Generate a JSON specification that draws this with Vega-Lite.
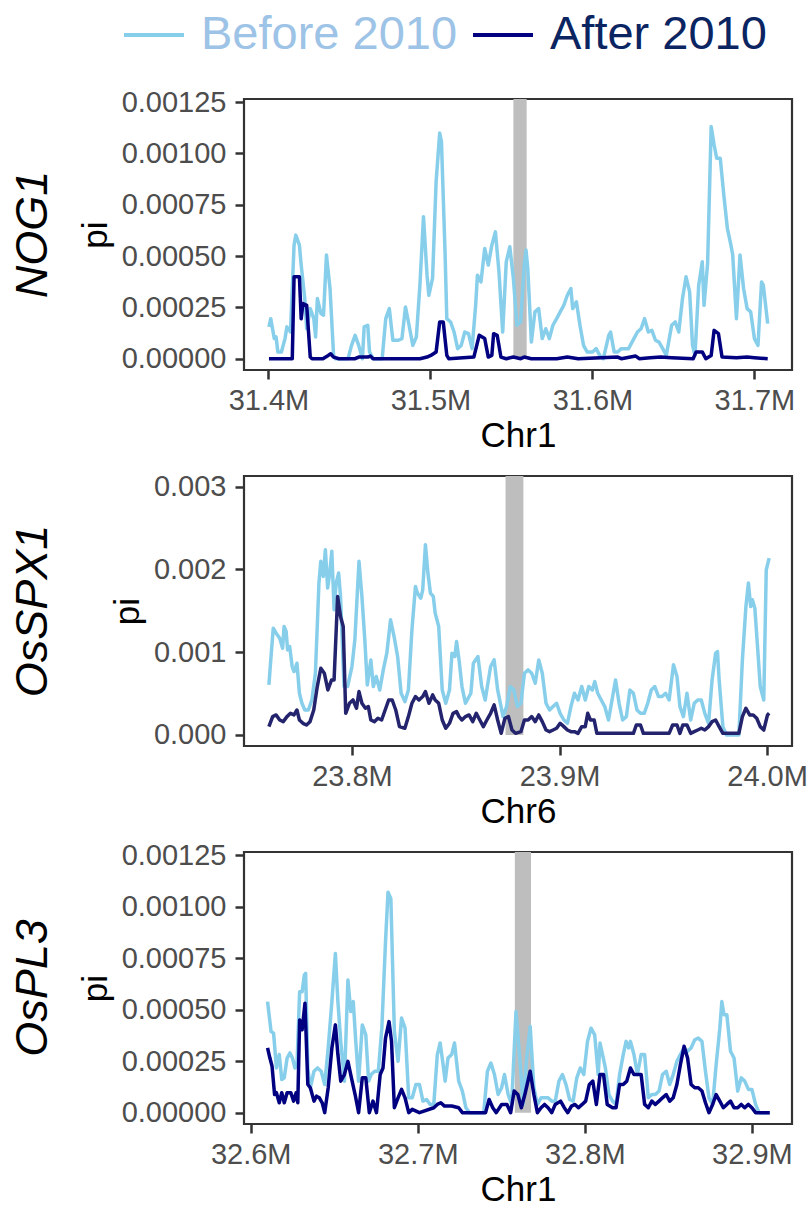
{
  "$schema": "https://vega.github.io/schema/vega-lite/v6.json",
  "background": "white",
  "padding": {"left": 10, "top": 1, "right": 0, "bottom": 0},
  "bounds": "flush",
  "config": {
    "font": "Liberation Sans",
    "view": {"stroke": "#333333", "strokeWidth": 2.2},
    "axis": {"domain": false, "grid": false, "tickColor": "#333333", "tickWidth": 2.5, "tickSize": 9, "labelFontSize": 29, "labelColor": "#4D4D4D", "labelFlush": false, "labelOverlap": false, "titleFontSize": 35, "titleFontWeight": "normal", "titleColor": "#000000"},
    "axisX": {"labelPadding": 7, "titlePadding": 3},
    "axisY": {"labelPadding": 9, "titlePadding": 8},
    "title": {"fontSize": 45, "fontStyle": "italic", "fontWeight": "normal", "color": "#000000", "orient": "left", "anchor": "middle"}
  },
  "datasets": {
    "bands": [
      {"gene": "NOG1", "start": 31.5512, "end": 31.5594, "lo": 0, "hi": 0.001265},
      {"gene": "OsSPX1", "start": 23.874, "end": 23.8826, "lo": 0, "hi": 0.003128},
      {"gene": "OsPL3", "start": 32.7581, "end": 32.7678, "lo": 0, "hi": 0.001265}
    ],
    "nog1": [
      {"period":"Before 2010","pos":31.4003,"pi":0.000155},{"period":"Before 2010","pos":31.4014,"pi":0.000195},{"period":"Before 2010","pos":31.4036,"pi":0.000098},{"period":"Before 2010","pos":31.4047,"pi":0.000106},{"period":"Before 2010","pos":31.4058,"pi":0.000033},{"period":"Before 2010","pos":31.408,"pi":0.000033},{"period":"Before 2010","pos":31.4102,"pi":0.000098},{"period":"Before 2010","pos":31.4114,"pi":0.000155},{"period":"Before 2010","pos":31.4136,"pi":0.00013},{"period":"Before 2010","pos":31.4158,"pi":0.000553},{"period":"Before 2010","pos":31.4169,"pi":0.000602},{"period":"Before 2010","pos":31.4191,"pi":0.000553},{"period":"Before 2010","pos":31.4202,"pi":0.000456},{"period":"Before 2010","pos":31.4224,"pi":0.000293},{"period":"Before 2010","pos":31.4236,"pi":0.000146},{"period":"Before 2010","pos":31.4258,"pi":0.000244},{"period":"Before 2010","pos":31.428,"pi":0.000195},{"period":"Before 2010","pos":31.4291,"pi":0.000106},{"period":"Before 2010","pos":31.4302,"pi":0.000293},{"period":"Before 2010","pos":31.4324,"pi":0.00022},{"period":"Before 2010","pos":31.434,"pi":0.000212},{"period":"Before 2010","pos":31.4358,"pi":0.000505},{"period":"Before 2010","pos":31.438,"pi":0.000342},{"period":"Before 2010","pos":31.4402,"pi":0.000016},{"period":"Before 2010","pos":31.4413,"pi":0},{"period":"Before 2010","pos":31.4491,"pi":0},{"period":"Before 2010","pos":31.4513,"pi":0.000065},{"period":"Before 2010","pos":31.4535,"pi":0.000114},{"period":"Before 2010","pos":31.4557,"pi":0.000065},{"period":"Before 2010","pos":31.458,"pi":0},{"period":"Before 2010","pos":31.4591,"pi":0.000155},{"period":"Before 2010","pos":31.4613,"pi":0.000163},{"period":"Before 2010","pos":31.4624,"pi":0.000033},{"period":"Before 2010","pos":31.4646,"pi":0},{"period":"Before 2010","pos":31.4702,"pi":0},{"period":"Before 2010","pos":31.4724,"pi":0.000195},{"period":"Before 2010","pos":31.4746,"pi":0.000244},{"period":"Before 2010","pos":31.4768,"pi":0.00009},{"period":"Before 2010","pos":31.4802,"pi":0.00009},{"period":"Before 2010","pos":31.4824,"pi":0.000098},{"period":"Before 2010","pos":31.4846,"pi":0.000252},{"period":"Before 2010","pos":31.4868,"pi":0.000163},{"period":"Before 2010","pos":31.4891,"pi":0.000065},{"period":"Before 2010","pos":31.4913,"pi":0.000106},{"period":"Before 2010","pos":31.4935,"pi":0.000358},{"period":"Before 2010","pos":31.4957,"pi":0.000692},{"period":"Before 2010","pos":31.4979,"pi":0.000407},{"period":"Before 2010","pos":31.499,"pi":0.000309},{"period":"Before 2010","pos":31.5013,"pi":0.000391},{"period":"Before 2010","pos":31.5035,"pi":0.000863},{"period":"Before 2010","pos":31.5057,"pi":0.001099},{"period":"Before 2010","pos":31.5068,"pi":0.001058},{"period":"Before 2010","pos":31.509,"pi":0.000521},{"period":"Before 2010","pos":31.5101,"pi":0.000195},{"period":"Before 2010","pos":31.5124,"pi":0.000179},{"period":"Before 2010","pos":31.5146,"pi":0.00013},{"period":"Before 2010","pos":31.5168,"pi":0.000049},{"period":"Before 2010","pos":31.519,"pi":0.000065},{"period":"Before 2010","pos":31.5212,"pi":0.00013},{"period":"Before 2010","pos":31.5235,"pi":0.000122},{"period":"Before 2010","pos":31.5257,"pi":0.000049},{"period":"Before 2010","pos":31.5279,"pi":0.00026},{"period":"Before 2010","pos":31.529,"pi":0.000407},{"period":"Before 2010","pos":31.5312,"pi":0.000374},{"period":"Before 2010","pos":31.5335,"pi":0.000537},{"period":"Before 2010","pos":31.5357,"pi":0.000456},{"period":"Before 2010","pos":31.5379,"pi":0.000553},{"period":"Before 2010","pos":31.5401,"pi":0.000618},{"period":"Before 2010","pos":31.5423,"pi":0.000423},{"period":"Before 2010","pos":31.5446,"pi":0.00013},{"period":"Before 2010","pos":31.5468,"pi":0.000472},{"period":"Before 2010","pos":31.549,"pi":0.000545},{"period":"Before 2010","pos":31.5512,"pi":0.000391},{"period":"Before 2010","pos":31.5534,"pi":0.000163},{"period":"Before 2010","pos":31.5557,"pi":0.000179},{"period":"Before 2010","pos":31.5579,"pi":0.000456},{"period":"Before 2010","pos":31.559,"pi":0.000529},{"period":"Before 2010","pos":31.5601,"pi":0.000439},{"period":"Before 2010","pos":31.5623,"pi":0.000081},{"period":"Before 2010","pos":31.5645,"pi":0.000228},{"period":"Before 2010","pos":31.5668,"pi":0.000244},{"period":"Before 2010","pos":31.569,"pi":0.000098},{"period":"Before 2010","pos":31.5712,"pi":0.000146},{"period":"Before 2010","pos":31.5734,"pi":0.000098},{"period":"Before 2010","pos":31.5756,"pi":0.000163},{"period":"Before 2010","pos":31.5779,"pi":0.000195},{"period":"Before 2010","pos":31.5801,"pi":0.000228},{"period":"Before 2010","pos":31.5823,"pi":0.00026},{"period":"Before 2010","pos":31.5845,"pi":0.000309},{"period":"Before 2010","pos":31.5867,"pi":0.000342},{"period":"Before 2010","pos":31.5878,"pi":0.000244},{"period":"Before 2010","pos":31.5901,"pi":0.000277},{"period":"Before 2010","pos":31.5923,"pi":0.000163},{"period":"Before 2010","pos":31.5945,"pi":0.000065},{"period":"Before 2010","pos":31.5967,"pi":0.000033},{"period":"Before 2010","pos":31.6001,"pi":0.000033},{"period":"Before 2010","pos":31.6023,"pi":0.000049},{"period":"Before 2010","pos":31.6045,"pi":0.000016},{"period":"Before 2010","pos":31.6067,"pi":0},{"period":"Before 2010","pos":31.6101,"pi":0.000114},{"period":"Before 2010","pos":31.6112,"pi":0.00013},{"period":"Before 2010","pos":31.6134,"pi":0.000033},{"period":"Before 2010","pos":31.6156,"pi":0.000033},{"period":"Before 2010","pos":31.6178,"pi":0.000049},{"period":"Before 2010","pos":31.62,"pi":0.000049},{"period":"Before 2010","pos":31.6223,"pi":0.000049},{"period":"Before 2010","pos":31.6256,"pi":0.000098},{"period":"Before 2010","pos":31.6278,"pi":0.00013},{"period":"Before 2010","pos":31.63,"pi":0.000146},{"period":"Before 2010","pos":31.6322,"pi":0.000195},{"period":"Before 2010","pos":31.6345,"pi":0.00013},{"period":"Before 2010","pos":31.6367,"pi":0.000138},{"period":"Before 2010","pos":31.6389,"pi":0.00009},{"period":"Before 2010","pos":31.6411,"pi":0.000081},{"period":"Before 2010","pos":31.6434,"pi":0.000049},{"period":"Before 2010","pos":31.6456,"pi":0.000016},{"period":"Before 2010","pos":31.6489,"pi":0.000163},{"period":"Before 2010","pos":31.6511,"pi":0.000179},{"period":"Before 2010","pos":31.6533,"pi":0.00013},{"period":"Before 2010","pos":31.6556,"pi":0.000293},{"period":"Before 2010","pos":31.6578,"pi":0.000399},{"period":"Before 2010","pos":31.66,"pi":0.000326},{"period":"Before 2010","pos":31.6618,"pi":0.000065},{"period":"Before 2010","pos":31.6633,"pi":0.000016},{"period":"Before 2010","pos":31.6656,"pi":0.000358},{"period":"Before 2010","pos":31.6678,"pi":0.000472},{"period":"Before 2010","pos":31.6689,"pi":0.00026},{"period":"Before 2010","pos":31.6711,"pi":0.000464},{"period":"Before 2010","pos":31.6733,"pi":0.001131},{"period":"Before 2010","pos":31.6751,"pi":0.001042},{"period":"Before 2010","pos":31.6767,"pi":0.000977},{"period":"Before 2010","pos":31.6789,"pi":0.000977},{"period":"Before 2010","pos":31.6811,"pi":0.000798},{"period":"Before 2010","pos":31.6833,"pi":0.000635},{"period":"Before 2010","pos":31.6855,"pi":0.000553},{"period":"Before 2010","pos":31.6866,"pi":0.000505},{"period":"Before 2010","pos":31.6889,"pi":0.000195},{"period":"Before 2010","pos":31.6911,"pi":0.000505},{"period":"Before 2010","pos":31.6933,"pi":0.000342},{"period":"Before 2010","pos":31.6955,"pi":0.000244},{"period":"Before 2010","pos":31.6977,"pi":0.000228},{"period":"Before 2010","pos":31.7,"pi":0.000098},{"period":"Before 2010","pos":31.7022,"pi":0.000065},{"period":"Before 2010","pos":31.7044,"pi":0.000374},{"period":"Before 2010","pos":31.7055,"pi":0.000358},{"period":"Before 2010","pos":31.7082,"pi":0.000171},
      {"period":"After 2010","pos":31.4003,"pi":0},{"period":"After 2010","pos":31.4147,"pi":0},{"period":"After 2010","pos":31.4158,"pi":0.000399},{"period":"After 2010","pos":31.4191,"pi":0.000399},{"period":"After 2010","pos":31.4202,"pi":0.000195},{"period":"After 2010","pos":31.4213,"pi":0.000269},{"period":"After 2010","pos":31.4236,"pi":0.00026},{"period":"After 2010","pos":31.4258,"pi":0.000008},{"period":"After 2010","pos":31.4269,"pi":0},{"period":"After 2010","pos":31.4336,"pi":0},{"period":"After 2010","pos":31.4369,"pi":0.000016},{"period":"After 2010","pos":31.4384,"pi":0.000024},{"period":"After 2010","pos":31.4402,"pi":0.000008},{"period":"After 2010","pos":31.4435,"pi":0},{"period":"After 2010","pos":31.4535,"pi":0},{"period":"After 2010","pos":31.4557,"pi":0.000008},{"period":"After 2010","pos":31.4613,"pi":0.000008},{"period":"After 2010","pos":31.4629,"pi":0.000013},{"period":"After 2010","pos":31.4646,"pi":0},{"period":"After 2010","pos":31.4935,"pi":0},{"period":"After 2010","pos":31.4979,"pi":0.000008},{"period":"After 2010","pos":31.5002,"pi":0.000016},{"period":"After 2010","pos":31.5035,"pi":0.000033},{"period":"After 2010","pos":31.5057,"pi":0.000179},{"period":"After 2010","pos":31.5079,"pi":0.000179},{"period":"After 2010","pos":31.5101,"pi":0.000016},{"period":"After 2010","pos":31.5113,"pi":0},{"period":"After 2010","pos":31.5268,"pi":0.000008},{"period":"After 2010","pos":31.5301,"pi":0.000114},{"period":"After 2010","pos":31.5335,"pi":0.000098},{"period":"After 2010","pos":31.5357,"pi":0.000008},{"period":"After 2010","pos":31.5379,"pi":0.000016},{"period":"After 2010","pos":31.539,"pi":0.000122},{"period":"After 2010","pos":31.5412,"pi":0.000114},{"period":"After 2010","pos":31.5435,"pi":0.000008},{"period":"After 2010","pos":31.5468,"pi":0},{"period":"After 2010","pos":31.5512,"pi":0.000008},{"period":"After 2010","pos":31.5557,"pi":0},{"period":"After 2010","pos":31.5579,"pi":0.000008},{"period":"After 2010","pos":31.5623,"pi":0},{"period":"After 2010","pos":31.5779,"pi":0},{"period":"After 2010","pos":31.5845,"pi":0.000008},{"period":"After 2010","pos":31.5912,"pi":0},{"period":"After 2010","pos":31.6156,"pi":0.000008},{"period":"After 2010","pos":31.6178,"pi":0},{"period":"After 2010","pos":31.6267,"pi":0.000013},{"period":"After 2010","pos":31.6289,"pi":0},{"period":"After 2010","pos":31.6356,"pi":0.000005},{"period":"After 2010","pos":31.6422,"pi":0.000008},{"period":"After 2010","pos":31.6489,"pi":0.000005},{"period":"After 2010","pos":31.6622,"pi":0},{"period":"After 2010","pos":31.664,"pi":0.000033},{"period":"After 2010","pos":31.6678,"pi":0.000033},{"period":"After 2010","pos":31.67,"pi":0},{"period":"After 2010","pos":31.6733,"pi":0.000016},{"period":"After 2010","pos":31.6751,"pi":0.000138},{"period":"After 2010","pos":31.6778,"pi":0.000122},{"period":"After 2010","pos":31.68,"pi":0.000008},{"period":"After 2010","pos":31.6889,"pi":0.000005},{"period":"After 2010","pos":31.6955,"pi":0.000008},{"period":"After 2010","pos":31.7,"pi":0.000005},{"period":"After 2010","pos":31.7082,"pi":0}
    ],
    "spx1": [
      {"period":"Before 2010","pos":23.76,"pi":0.000605},{"period":"Before 2010","pos":23.7609,"pi":0.000907},{"period":"Before 2010","pos":23.7621,"pi":0.00129},{"period":"Before 2010","pos":23.7635,"pi":0.00123},{"period":"Before 2010","pos":23.7652,"pi":0.001169},{"period":"Before 2010","pos":23.7666,"pi":0.001048},{"period":"Before 2010","pos":23.7673,"pi":0.00131},{"period":"Before 2010","pos":23.7683,"pi":0.00125},{"period":"Before 2010","pos":23.769,"pi":0.001028},{"period":"Before 2010","pos":23.77,"pi":0.001068},{"period":"Before 2010","pos":23.7712,"pi":0.000827},{"period":"Before 2010","pos":23.7721,"pi":0.000766},{"period":"Before 2010","pos":23.7735,"pi":0.000867},{"period":"Before 2010","pos":23.7747,"pi":0.000504},{"period":"Before 2010","pos":23.7759,"pi":0.000383},{"period":"Before 2010","pos":23.7773,"pi":0.000302},{"period":"Before 2010","pos":23.779,"pi":0.000302},{"period":"Before 2010","pos":23.7807,"pi":0.000423},{"period":"Before 2010","pos":23.7824,"pi":0.000746},{"period":"Before 2010","pos":23.7841,"pi":0.001835},{"period":"Before 2010","pos":23.785,"pi":0.002097},{"period":"Before 2010","pos":23.7862,"pi":0.001915},{"period":"Before 2010","pos":23.7872,"pi":0.002238},{"period":"Before 2010","pos":23.7883,"pi":0.001774},{"period":"Before 2010","pos":23.7893,"pi":0.001956},{"period":"Before 2010","pos":23.7903,"pi":0.002218},{"period":"Before 2010","pos":23.7914,"pi":0.001512},{"period":"Before 2010","pos":23.7924,"pi":0.001835},{"period":"Before 2010","pos":23.7936,"pi":0.001956},{"period":"Before 2010","pos":23.7945,"pi":0.001673},{"period":"Before 2010","pos":23.7962,"pi":0.000585},{"period":"Before 2010","pos":23.7979,"pi":0.000585},{"period":"Before 2010","pos":23.8,"pi":0.000827},{"period":"Before 2010","pos":23.8014,"pi":0.001149},{"period":"Before 2010","pos":23.8034,"pi":0.002097},{"period":"Before 2010","pos":23.8048,"pi":0.001673},{"period":"Before 2010","pos":23.8062,"pi":0.001149},{"period":"Before 2010","pos":23.8074,"pi":0.000605},{"period":"Before 2010","pos":23.8091,"pi":0.000907},{"period":"Before 2010","pos":23.8103,"pi":0.000585},{"period":"Before 2010","pos":23.8117,"pi":0.000706},{"period":"Before 2010","pos":23.8134,"pi":0.000544},{"period":"Before 2010","pos":23.8151,"pi":0.000786},{"period":"Before 2010","pos":23.8168,"pi":0.000988},{"period":"Before 2010","pos":23.8186,"pi":0.001391},{"period":"Before 2010","pos":23.8203,"pi":0.001189},{"period":"Before 2010","pos":23.822,"pi":0.000948},{"period":"Before 2010","pos":23.8237,"pi":0.000504},{"period":"Before 2010","pos":23.8255,"pi":0.000403},{"period":"Before 2010","pos":23.8272,"pi":0.000544},{"period":"Before 2010","pos":23.8289,"pi":0.00127},{"period":"Before 2010","pos":23.8306,"pi":0.001794},{"period":"Before 2010","pos":23.8315,"pi":0.001714},{"period":"Before 2010","pos":23.8332,"pi":0.001653},{"period":"Before 2010","pos":23.8341,"pi":0.001754},{"period":"Before 2010","pos":23.8354,"pi":0.002298},{"period":"Before 2010","pos":23.8366,"pi":0.001956},{"period":"Before 2010","pos":23.8378,"pi":0.001714},{"period":"Before 2010","pos":23.8392,"pi":0.001673},{"period":"Before 2010","pos":23.8401,"pi":0.001472},{"period":"Before 2010","pos":23.8418,"pi":0.00131},{"period":"Before 2010","pos":23.8435,"pi":0.000544},{"period":"Before 2010","pos":23.8452,"pi":0.000383},{"period":"Before 2010","pos":23.847,"pi":0.000544},{"period":"Before 2010","pos":23.8482,"pi":0.000988},{"period":"Before 2010","pos":23.8496,"pi":0.000948},{"period":"Before 2010","pos":23.8504,"pi":0.001129},{"period":"Before 2010","pos":23.8516,"pi":0.000907},{"period":"Before 2010","pos":23.853,"pi":0.000585},{"period":"Before 2010","pos":23.8547,"pi":0.000383},{"period":"Before 2010","pos":23.8573,"pi":0.000504},{"period":"Before 2010","pos":23.8585,"pi":0.000867},{"period":"Before 2010","pos":23.8607,"pi":0.000948},{"period":"Before 2010","pos":23.8625,"pi":0.000585},{"period":"Before 2010","pos":23.8642,"pi":0.000423},{"period":"Before 2010","pos":23.8668,"pi":0.000827},{"period":"Before 2010","pos":23.8685,"pi":0.000907},{"period":"Before 2010","pos":23.8702,"pi":0.000544},{"period":"Before 2010","pos":23.8728,"pi":0.000222},{"period":"Before 2010","pos":23.8745,"pi":0.000343},{"period":"Before 2010","pos":23.8763,"pi":0.000585},{"period":"Before 2010","pos":23.878,"pi":0.000544},{"period":"Before 2010","pos":23.8797,"pi":0.000343},{"period":"Before 2010","pos":23.8814,"pi":0.000383},{"period":"Before 2010","pos":23.8831,"pi":0.000746},{"period":"Before 2010","pos":23.8849,"pi":0.000786},{"period":"Before 2010","pos":23.8866,"pi":0.000746},{"period":"Before 2010","pos":23.8883,"pi":0.000625},{"period":"Before 2010","pos":23.89,"pi":0.000907},{"period":"Before 2010","pos":23.8917,"pi":0.000746},{"period":"Before 2010","pos":23.8935,"pi":0.000383},{"period":"Before 2010","pos":23.8952,"pi":0.000302},{"period":"Before 2010","pos":23.8969,"pi":0.000343},{"period":"Before 2010","pos":23.8986,"pi":0.000383},{"period":"Before 2010","pos":23.9003,"pi":0.000262},{"period":"Before 2010","pos":23.9021,"pi":0.000181},{"period":"Before 2010","pos":23.9038,"pi":0.000141},{"period":"Before 2010","pos":23.9055,"pi":0.000343},{"period":"Before 2010","pos":23.9072,"pi":0.000504},{"period":"Before 2010","pos":23.9089,"pi":0.000423},{"period":"Before 2010","pos":23.9107,"pi":0.000585},{"period":"Before 2010","pos":23.9124,"pi":0.000423},{"period":"Before 2010","pos":23.9141,"pi":0.000585},{"period":"Before 2010","pos":23.9158,"pi":0.000544},{"period":"Before 2010","pos":23.917,"pi":0.000645},{"period":"Before 2010","pos":23.9184,"pi":0.000504},{"period":"Before 2010","pos":23.9201,"pi":0.000423},{"period":"Before 2010","pos":23.9218,"pi":0.000343},{"period":"Before 2010","pos":23.9236,"pi":0.000181},{"period":"Before 2010","pos":23.9253,"pi":0.000423},{"period":"Before 2010","pos":23.927,"pi":0.000665},{"period":"Before 2010","pos":23.9287,"pi":0.000383},{"period":"Before 2010","pos":23.9304,"pi":0.000181},{"period":"Before 2010","pos":23.9322,"pi":0.000222},{"period":"Before 2010","pos":23.9339,"pi":0.000544},{"period":"Before 2010","pos":23.9356,"pi":0.000504},{"period":"Before 2010","pos":23.9373,"pi":0.000302},{"period":"Before 2010","pos":23.939,"pi":0.000262},{"period":"Before 2010","pos":23.9408,"pi":0.000262},{"period":"Before 2010","pos":23.9425,"pi":0.000383},{"period":"Before 2010","pos":23.9442,"pi":0.000544},{"period":"Before 2010","pos":23.9459,"pi":0.000585},{"period":"Before 2010","pos":23.9477,"pi":0.000464},{"period":"Before 2010","pos":23.9494,"pi":0.000464},{"period":"Before 2010","pos":23.9511,"pi":0.000504},{"period":"Before 2010","pos":23.9528,"pi":0.000423},{"period":"Before 2010","pos":23.9549,"pi":0.000847},{"period":"Before 2010","pos":23.9566,"pi":0.000706},{"period":"Before 2010","pos":23.958,"pi":0.000343},{"period":"Before 2010","pos":23.9597,"pi":0.000222},{"period":"Before 2010","pos":23.9614,"pi":0.000504},{"period":"Before 2010","pos":23.9632,"pi":0.000181},{"period":"Before 2010","pos":23.9649,"pi":0.000383},{"period":"Before 2010","pos":23.9666,"pi":0.000423},{"period":"Before 2010","pos":23.9683,"pi":0.000423},{"period":"Before 2010","pos":23.97,"pi":0.000262},{"period":"Before 2010","pos":23.9718,"pi":0.000141},{"period":"Before 2010","pos":23.9735,"pi":0.000665},{"period":"Before 2010","pos":23.9752,"pi":0.000988},{"period":"Before 2010","pos":23.9761,"pi":0.001008},{"period":"Before 2010","pos":23.9769,"pi":0.000665},{"period":"Before 2010","pos":23.9787,"pi":0.000101},{"period":"Before 2010","pos":23.9804,"pi":0},{"period":"Before 2010","pos":23.9838,"pi":0},{"period":"Before 2010","pos":23.9864,"pi":0},{"period":"Before 2010","pos":23.9881,"pi":0.000907},{"period":"Before 2010","pos":23.9898,"pi":0.001552},{"period":"Before 2010","pos":23.991,"pi":0.001835},{"period":"Before 2010","pos":23.9921,"pi":0.001552},{"period":"Before 2010","pos":23.9929,"pi":0.001633},{"period":"Before 2010","pos":23.9941,"pi":0.001532},{"period":"Before 2010","pos":23.9955,"pi":0.001028},{"period":"Before 2010","pos":23.9967,"pi":0.000585},{"period":"Before 2010","pos":23.9984,"pi":0.000423},{"period":"Before 2010","pos":23.9996,"pi":0.001996},{"period":"Before 2010","pos":24.001,"pi":0.002137},
      {"period":"After 2010","pos":23.76,"pi":0.000101},{"period":"After 2010","pos":23.7618,"pi":0.000222},{"period":"After 2010","pos":23.7635,"pi":0.000242},{"period":"After 2010","pos":23.7652,"pi":0.000181},{"period":"After 2010","pos":23.7669,"pi":0.000161},{"period":"After 2010","pos":23.7687,"pi":0.000222},{"period":"After 2010","pos":23.7704,"pi":0.000262},{"period":"After 2010","pos":23.7721,"pi":0.000242},{"period":"After 2010","pos":23.7735,"pi":0.000302},{"period":"After 2010","pos":23.7747,"pi":0.000181},{"period":"After 2010","pos":23.7764,"pi":0.000141},{"period":"After 2010","pos":23.7781,"pi":0.000121},{"period":"After 2010","pos":23.7798,"pi":0.000161},{"period":"After 2010","pos":23.7816,"pi":0.000302},{"period":"After 2010","pos":23.7833,"pi":0.000585},{"period":"After 2010","pos":23.785,"pi":0.000806},{"period":"After 2010","pos":23.7867,"pi":0.000746},{"period":"After 2010","pos":23.7884,"pi":0.000544},{"period":"After 2010","pos":23.7902,"pi":0.000665},{"period":"After 2010","pos":23.7914,"pi":0.000665},{"period":"After 2010","pos":23.7931,"pi":0.001673},{"period":"After 2010","pos":23.7945,"pi":0.001431},{"period":"After 2010","pos":23.7958,"pi":0.00131},{"period":"After 2010","pos":23.797,"pi":0.000262},{"period":"After 2010","pos":23.7988,"pi":0.000383},{"period":"After 2010","pos":23.8005,"pi":0.000423},{"period":"After 2010","pos":23.8022,"pi":0.000323},{"period":"After 2010","pos":23.8034,"pi":0.000524},{"period":"After 2010","pos":23.8048,"pi":0.000383},{"period":"After 2010","pos":23.8065,"pi":0.000323},{"period":"After 2010","pos":23.8079,"pi":0.000343},{"period":"After 2010","pos":23.8091,"pi":0.000181},{"period":"After 2010","pos":23.8108,"pi":0.000161},{"period":"After 2010","pos":23.8125,"pi":0.000202},{"period":"After 2010","pos":23.8143,"pi":0.000181},{"period":"After 2010","pos":23.816,"pi":0.000302},{"period":"After 2010","pos":23.8177,"pi":0.000423},{"period":"After 2010","pos":23.8194,"pi":0.000423},{"period":"After 2010","pos":23.8211,"pi":0.000302},{"period":"After 2010","pos":23.8229,"pi":0.000101},{"period":"After 2010","pos":23.8255,"pi":0.000081},{"period":"After 2010","pos":23.8272,"pi":0.000222},{"period":"After 2010","pos":23.8289,"pi":0.000383},{"period":"After 2010","pos":23.8306,"pi":0.000464},{"period":"After 2010","pos":23.8323,"pi":0.000423},{"period":"After 2010","pos":23.8341,"pi":0.000464},{"period":"After 2010","pos":23.8354,"pi":0.000524},{"period":"After 2010","pos":23.8371,"pi":0.000383},{"period":"After 2010","pos":23.8389,"pi":0.000484},{"period":"After 2010","pos":23.8401,"pi":0.000423},{"period":"After 2010","pos":23.8418,"pi":0.000383},{"period":"After 2010","pos":23.8435,"pi":0.000181},{"period":"After 2010","pos":23.8452,"pi":0.000081},{"period":"After 2010","pos":23.847,"pi":0.000141},{"period":"After 2010","pos":23.8487,"pi":0.000262},{"period":"After 2010","pos":23.8504,"pi":0.000282},{"period":"After 2010","pos":23.8516,"pi":0.000222},{"period":"After 2010","pos":23.853,"pi":0.000181},{"period":"After 2010","pos":23.8547,"pi":0.000222},{"period":"After 2010","pos":23.8564,"pi":0.000242},{"period":"After 2010","pos":23.8582,"pi":0.000161},{"period":"After 2010","pos":23.8599,"pi":0.000262},{"period":"After 2010","pos":23.8616,"pi":0.000181},{"period":"After 2010","pos":23.8633,"pi":0.000101},{"period":"After 2010","pos":23.865,"pi":0.000181},{"period":"After 2010","pos":23.8668,"pi":0.000262},{"period":"After 2010","pos":23.8685,"pi":0.000363},{"period":"After 2010","pos":23.8702,"pi":0.000181},{"period":"After 2010","pos":23.8719,"pi":0.00002},{"period":"After 2010","pos":23.8737,"pi":0.000202},{"period":"After 2010","pos":23.8754,"pi":0.000222},{"period":"After 2010","pos":23.8771,"pi":0.00006},{"period":"After 2010","pos":23.8788,"pi":0.00002},{"period":"After 2010","pos":23.8814,"pi":0.00004},{"period":"After 2010","pos":23.8831,"pi":0.000181},{"period":"After 2010","pos":23.8849,"pi":0.000181},{"period":"After 2010","pos":23.8866,"pi":0.000222},{"period":"After 2010","pos":23.8883,"pi":0.000161},{"period":"After 2010","pos":23.89,"pi":0.000242},{"period":"After 2010","pos":23.8917,"pi":0.000161},{"period":"After 2010","pos":23.8935,"pi":0.00006},{"period":"After 2010","pos":23.8952,"pi":0.00004},{"period":"After 2010","pos":23.8969,"pi":0.00006},{"period":"After 2010","pos":23.8986,"pi":0.000081},{"period":"After 2010","pos":23.9003,"pi":0.000141},{"period":"After 2010","pos":23.9021,"pi":0.000101},{"period":"After 2010","pos":23.9038,"pi":0.00006},{"period":"After 2010","pos":23.9055,"pi":0.00004},{"period":"After 2010","pos":23.9072,"pi":0.00004},{"period":"After 2010","pos":23.9089,"pi":0.00002},{"period":"After 2010","pos":23.9107,"pi":0.000101},{"period":"After 2010","pos":23.9124,"pi":0.000101},{"period":"After 2010","pos":23.9136,"pi":0.000262},{"period":"After 2010","pos":23.9149,"pi":0.000181},{"period":"After 2010","pos":23.9167,"pi":0.000181},{"period":"After 2010","pos":23.918,"pi":0.00002},{"period":"After 2010","pos":23.9201,"pi":0.00002},{"period":"After 2010","pos":23.9356,"pi":0.00002},{"period":"After 2010","pos":23.937,"pi":0.000121},{"period":"After 2010","pos":23.939,"pi":0.000121},{"period":"After 2010","pos":23.9404,"pi":0.00002},{"period":"After 2010","pos":23.9528,"pi":0.00002},{"period":"After 2010","pos":23.9545,"pi":0.000121},{"period":"After 2010","pos":23.9566,"pi":0.000121},{"period":"After 2010","pos":23.958,"pi":0.00002},{"period":"After 2010","pos":23.9594,"pi":0.000121},{"period":"After 2010","pos":23.9614,"pi":0.000121},{"period":"After 2010","pos":23.9632,"pi":0.00002},{"period":"After 2010","pos":23.9649,"pi":0.00004},{"period":"After 2010","pos":23.9666,"pi":0.00006},{"period":"After 2010","pos":23.9683,"pi":0.000081},{"period":"After 2010","pos":23.97,"pi":0.00006},{"period":"After 2010","pos":23.9718,"pi":0.000101},{"period":"After 2010","pos":23.9735,"pi":0.000161},{"period":"After 2010","pos":23.9752,"pi":0.000181},{"period":"After 2010","pos":23.9769,"pi":0.000101},{"period":"After 2010","pos":23.9787,"pi":0.00002},{"period":"After 2010","pos":23.9864,"pi":0.00002},{"period":"After 2010","pos":23.9881,"pi":0.000222},{"period":"After 2010","pos":23.9898,"pi":0.000323},{"period":"After 2010","pos":23.9916,"pi":0.000242},{"period":"After 2010","pos":23.9933,"pi":0.000242},{"period":"After 2010","pos":23.995,"pi":0.000202},{"period":"After 2010","pos":23.9967,"pi":0.000101},{"period":"After 2010","pos":23.9984,"pi":0.00006},{"period":"After 2010","pos":24.0002,"pi":0.000242},{"period":"After 2010","pos":24.001,"pi":0.000262}
    ],
    "pl3": [
      {"period":"Before 2010","pos":32.6101,"pi":0.000539},{"period":"Before 2010","pos":32.6122,"pi":0.000394},{"period":"Before 2010","pos":32.6137,"pi":0.000386},{"period":"Before 2010","pos":32.6154,"pi":0.000217},{"period":"Before 2010","pos":32.6171,"pi":0.000282},{"period":"Before 2010","pos":32.6186,"pi":0.000161},{"period":"Before 2010","pos":32.6201,"pi":0.000169},{"period":"Before 2010","pos":32.6218,"pi":0.000265},{"period":"Before 2010","pos":32.6235,"pi":0.00029},{"period":"Before 2010","pos":32.625,"pi":0.000265},{"period":"Before 2010","pos":32.6265,"pi":0.000217},{"period":"Before 2010","pos":32.6278,"pi":0.000249},{"period":"Before 2010","pos":32.6293,"pi":0.000587},{"period":"Before 2010","pos":32.6308,"pi":0.000587},{"period":"Before 2010","pos":32.6321,"pi":0.000668},{"period":"Before 2010","pos":32.6329,"pi":0.000676},{"period":"Before 2010","pos":32.6342,"pi":0.000217},{"period":"Before 2010","pos":32.6357,"pi":0.000121},{"period":"Before 2010","pos":32.6379,"pi":0.000201},{"period":"Before 2010","pos":32.64,"pi":0.000217},{"period":"Before 2010","pos":32.6422,"pi":0.000201},{"period":"Before 2010","pos":32.6443,"pi":0.000137},{"period":"Before 2010","pos":32.6464,"pi":0.000314},{"period":"Before 2010","pos":32.6486,"pi":0.000539},{"period":"Before 2010","pos":32.6507,"pi":0.000772},{"period":"Before 2010","pos":32.6522,"pi":0.000539},{"period":"Before 2010","pos":32.6539,"pi":0.000346},{"period":"Before 2010","pos":32.6561,"pi":0.000153},{"period":"Before 2010","pos":32.6582,"pi":0.000644},{"period":"Before 2010","pos":32.6599,"pi":0.000491},{"period":"Before 2010","pos":32.6614,"pi":0.000539},{"period":"Before 2010","pos":32.6629,"pi":0.000346},{"period":"Before 2010","pos":32.6646,"pi":0.000153},{"period":"Before 2010","pos":32.6668,"pi":0.000426},{"period":"Before 2010","pos":32.6689,"pi":0.000378},{"period":"Before 2010","pos":32.6706,"pi":0.000153},{"period":"Before 2010","pos":32.6721,"pi":0.000185},{"period":"Before 2010","pos":32.6742,"pi":0.000201},{"period":"Before 2010","pos":32.6764,"pi":0.000201},{"period":"Before 2010","pos":32.6785,"pi":0.00041},{"period":"Before 2010","pos":32.6807,"pi":0.000829},{"period":"Before 2010","pos":32.6822,"pi":0.00107},{"period":"Before 2010","pos":32.6839,"pi":0.001038},{"period":"Before 2010","pos":32.686,"pi":0.000394},{"period":"Before 2010","pos":32.6882,"pi":0.000249},{"period":"Before 2010","pos":32.6903,"pi":0.000459},{"period":"Before 2010","pos":32.6924,"pi":0.00041},{"period":"Before 2010","pos":32.6946,"pi":0.000072},{"period":"Before 2010","pos":32.6967,"pi":0.000072},{"period":"Before 2010","pos":32.6989,"pi":0.000137},{"period":"Before 2010","pos":32.701,"pi":0.000137},{"period":"Before 2010","pos":32.7031,"pi":0.000056},{"period":"Before 2010","pos":32.7053,"pi":0.000064},{"period":"Before 2010","pos":32.7074,"pi":0.00004},{"period":"Before 2010","pos":32.7096,"pi":0.00004},{"period":"Before 2010","pos":32.7117,"pi":0.000282},{"period":"Before 2010","pos":32.7134,"pi":0.000338},{"period":"Before 2010","pos":32.7149,"pi":0.000249},{"period":"Before 2010","pos":32.7164,"pi":0.000153},{"period":"Before 2010","pos":32.7181,"pi":0.000265},{"period":"Before 2010","pos":32.7203,"pi":0.000282},{"period":"Before 2010","pos":32.722,"pi":0.000338},{"period":"Before 2010","pos":32.7245,"pi":0.000153},{"period":"Before 2010","pos":32.7267,"pi":0.000105},{"period":"Before 2010","pos":32.7288,"pi":0.000024},{"period":"Before 2010","pos":32.731,"pi":0},{"period":"Before 2010","pos":32.7395,"pi":0},{"period":"Before 2010","pos":32.7417,"pi":0.000201},{"period":"Before 2010","pos":32.7438,"pi":0.000241},{"period":"Before 2010","pos":32.7459,"pi":0.000185},{"period":"Before 2010","pos":32.7481,"pi":0.000088},{"period":"Before 2010","pos":32.7502,"pi":0.000121},{"period":"Before 2010","pos":32.7519,"pi":0.000185},{"period":"Before 2010","pos":32.7541,"pi":0.000088},{"period":"Before 2010","pos":32.7562,"pi":0.00004},{"period":"Before 2010","pos":32.7588,"pi":0.000491},{"period":"Before 2010","pos":32.7609,"pi":0.000282},{"period":"Before 2010","pos":32.7631,"pi":0.00004},{"period":"Before 2010","pos":32.7652,"pi":0.000265},{"period":"Before 2010","pos":32.7673,"pi":0.000418},{"period":"Before 2010","pos":32.7695,"pi":0.000121},{"period":"Before 2010","pos":32.7716,"pi":0.00004},{"period":"Before 2010","pos":32.7738,"pi":0.000072},{"period":"Before 2010","pos":32.7759,"pi":0.000072},{"period":"Before 2010","pos":32.778,"pi":0.000072},{"period":"Before 2010","pos":32.7802,"pi":0.000056},{"period":"Before 2010","pos":32.7823,"pi":0.000056},{"period":"Before 2010","pos":32.7845,"pi":0.000153},{"period":"Before 2010","pos":32.7866,"pi":0.000185},{"period":"Before 2010","pos":32.7887,"pi":0.000137},{"period":"Before 2010","pos":32.7909,"pi":0.000064},{"period":"Before 2010","pos":32.793,"pi":0.000056},{"period":"Before 2010","pos":32.7952,"pi":0.000169},{"period":"Before 2010","pos":32.7973,"pi":0.000217},{"period":"Before 2010","pos":32.7994,"pi":0.000185},{"period":"Before 2010","pos":32.8016,"pi":0.000346},{"period":"Before 2010","pos":32.8037,"pi":0.00041},{"period":"Before 2010","pos":32.8059,"pi":0.000378},{"period":"Before 2010","pos":32.808,"pi":0.000185},{"period":"Before 2010","pos":32.8091,"pi":0.000338},{"period":"Before 2010","pos":32.8106,"pi":0.000282},{"period":"Before 2010","pos":32.8123,"pi":0.000217},{"period":"Before 2010","pos":32.8144,"pi":0.000088},{"period":"Before 2010","pos":32.8166,"pi":0.000056},{"period":"Before 2010","pos":32.8187,"pi":0.00004},{"period":"Before 2010","pos":32.8208,"pi":0.000185},{"period":"Before 2010","pos":32.823,"pi":0.000282},{"period":"Before 2010","pos":32.8247,"pi":0.000346},{"period":"Before 2010","pos":32.8262,"pi":0.000314},{"period":"Before 2010","pos":32.8273,"pi":0.000346},{"period":"Before 2010","pos":32.8294,"pi":0.000282},{"period":"Before 2010","pos":32.8315,"pi":0.000185},{"period":"Before 2010","pos":32.8337,"pi":0.000282},{"period":"Before 2010","pos":32.8358,"pi":0.000282},{"period":"Before 2010","pos":32.838,"pi":0.000072},{"period":"Before 2010","pos":32.8401,"pi":0.000088},{"period":"Before 2010","pos":32.8422,"pi":0.000088},{"period":"Before 2010","pos":32.8444,"pi":0.000105},{"period":"Before 2010","pos":32.8465,"pi":0.000185},{"period":"Before 2010","pos":32.8487,"pi":0.000201},{"period":"Before 2010","pos":32.8508,"pi":0.000137},{"period":"Before 2010","pos":32.8529,"pi":0.000185},{"period":"Before 2010","pos":32.8551,"pi":0.000249},{"period":"Before 2010","pos":32.8572,"pi":0.000282},{"period":"Before 2010","pos":32.8594,"pi":0.000314},{"period":"Before 2010","pos":32.8615,"pi":0.000298},{"period":"Before 2010","pos":32.8636,"pi":0.000314},{"period":"Before 2010","pos":32.8658,"pi":0.000354},{"period":"Before 2010","pos":32.8679,"pi":0.000362},{"period":"Before 2010","pos":32.8701,"pi":0.000346},{"period":"Before 2010","pos":32.8722,"pi":0.000201},{"period":"Before 2010","pos":32.8743,"pi":0.000072},{"period":"Before 2010","pos":32.8765,"pi":0.00004},{"period":"Before 2010","pos":32.8786,"pi":0.000233},{"period":"Before 2010","pos":32.8808,"pi":0.00041},{"period":"Before 2010","pos":32.882,"pi":0.000539},{"period":"Before 2010","pos":32.8833,"pi":0.000475},{"period":"Before 2010","pos":32.885,"pi":0.000475},{"period":"Before 2010","pos":32.8872,"pi":0.000298},{"period":"Before 2010","pos":32.8893,"pi":0.000265},{"period":"Before 2010","pos":32.8915,"pi":0.000105},{"period":"Before 2010","pos":32.8936,"pi":0.000169},{"period":"Before 2010","pos":32.8957,"pi":0.000153},{"period":"Before 2010","pos":32.8979,"pi":0.000113},{"period":"Before 2010","pos":32.9,"pi":0.000113},{"period":"Before 2010","pos":32.9022,"pi":0.00004},{"period":"Before 2010","pos":32.9043,"pi":0},{"period":"Before 2010","pos":32.9107,"pi":0},
      {"period":"After 2010","pos":32.6101,"pi":0.000314},{"period":"After 2010","pos":32.6115,"pi":0.000265},{"period":"After 2010","pos":32.6128,"pi":0.000225},{"period":"After 2010","pos":32.6143,"pi":0.000088},{"period":"After 2010","pos":32.6154,"pi":0.000097},{"period":"After 2010","pos":32.6171,"pi":0.000048},{"period":"After 2010","pos":32.6186,"pi":0.000097},{"period":"After 2010","pos":32.6201,"pi":0.000048},{"period":"After 2010","pos":32.6218,"pi":0.000097},{"period":"After 2010","pos":32.624,"pi":0.000097},{"period":"After 2010","pos":32.6257,"pi":0.000056},{"period":"After 2010","pos":32.6272,"pi":0.000097},{"period":"After 2010","pos":32.6282,"pi":0.000048},{"period":"After 2010","pos":32.6293,"pi":0.00045},{"period":"After 2010","pos":32.6308,"pi":0.000402},{"period":"After 2010","pos":32.6325,"pi":0.000531},{"period":"After 2010","pos":32.6342,"pi":0.000137},{"period":"After 2010","pos":32.6357,"pi":0.000121},{"period":"After 2010","pos":32.6379,"pi":0.000056},{"period":"After 2010","pos":32.6394,"pi":0.00008},{"period":"After 2010","pos":32.6411,"pi":0.000072},{"period":"After 2010","pos":32.6428,"pi":0.000048},{"period":"After 2010","pos":32.6443,"pi":0},{"period":"After 2010","pos":32.6464,"pi":0.000121},{"period":"After 2010","pos":32.6486,"pi":0.000314},{"period":"After 2010","pos":32.6507,"pi":0.000426},{"period":"After 2010","pos":32.6522,"pi":0.000282},{"period":"After 2010","pos":32.6539,"pi":0.000153},{"period":"After 2010","pos":32.6561,"pi":0.000185},{"period":"After 2010","pos":32.6582,"pi":0.000249},{"period":"After 2010","pos":32.6603,"pi":0.000169},{"period":"After 2010","pos":32.6625,"pi":0.000088},{"period":"After 2010","pos":32.6646,"pi":0},{"period":"After 2010","pos":32.6668,"pi":0.000169},{"period":"After 2010","pos":32.6689,"pi":0.000169},{"period":"After 2010","pos":32.671,"pi":0},{"period":"After 2010","pos":32.6732,"pi":0.000056},{"period":"After 2010","pos":32.6753,"pi":0},{"period":"After 2010","pos":32.6775,"pi":0.000185},{"period":"After 2010","pos":32.6792,"pi":0.000217},{"period":"After 2010","pos":32.6807,"pi":0.000362},{"period":"After 2010","pos":32.6828,"pi":0.000442},{"period":"After 2010","pos":32.6843,"pi":0.000346},{"period":"After 2010","pos":32.686,"pi":0.000024},{"period":"After 2010","pos":32.6882,"pi":0.000072},{"period":"After 2010","pos":32.6903,"pi":0.000113},{"period":"After 2010","pos":32.6924,"pi":0.000072},{"period":"After 2010","pos":32.6946,"pi":0},{"period":"After 2010","pos":32.6967,"pi":0.000016},{"period":"After 2010","pos":32.701,"pi":0},{"period":"After 2010","pos":32.7096,"pi":0.000024},{"period":"After 2010","pos":32.7117,"pi":0.00004},{"period":"After 2010","pos":32.7138,"pi":0.000048},{"period":"After 2010","pos":32.716,"pi":0.000032},{"period":"After 2010","pos":32.7203,"pi":0.000032},{"period":"After 2010","pos":32.7245,"pi":0.000024},{"period":"After 2010","pos":32.7267,"pi":0},{"period":"After 2010","pos":32.7406,"pi":0},{"period":"After 2010","pos":32.7427,"pi":0.000064},{"period":"After 2010","pos":32.7449,"pi":0.000024},{"period":"After 2010","pos":32.747,"pi":0},{"period":"After 2010","pos":32.7502,"pi":0.00004},{"period":"After 2010","pos":32.7534,"pi":0.00004},{"period":"After 2010","pos":32.7556,"pi":0},{"period":"After 2010","pos":32.7577,"pi":0.000105},{"period":"After 2010","pos":32.7599,"pi":0.000088},{"period":"After 2010","pos":32.762,"pi":0.000024},{"period":"After 2010","pos":32.7641,"pi":0.000088},{"period":"After 2010","pos":32.7673,"pi":0.000201},{"period":"After 2010","pos":32.7695,"pi":0.000088},{"period":"After 2010","pos":32.7716,"pi":0},{"period":"After 2010","pos":32.7738,"pi":0.000024},{"period":"After 2010","pos":32.7759,"pi":0.00004},{"period":"After 2010","pos":32.778,"pi":0.000024},{"period":"After 2010","pos":32.7802,"pi":0},{"period":"After 2010","pos":32.7823,"pi":0.00004},{"period":"After 2010","pos":32.7855,"pi":0.000056},{"period":"After 2010","pos":32.7877,"pi":0.000024},{"period":"After 2010","pos":32.7898,"pi":0},{"period":"After 2010","pos":32.792,"pi":0.000032},{"period":"After 2010","pos":32.7941,"pi":0.00004},{"period":"After 2010","pos":32.7962,"pi":0.000024},{"period":"After 2010","pos":32.7984,"pi":0.00004},{"period":"After 2010","pos":32.8005,"pi":0.000056},{"period":"After 2010","pos":32.8027,"pi":0.000137},{"period":"After 2010","pos":32.8048,"pi":0.000153},{"period":"After 2010","pos":32.8069,"pi":0.00004},{"period":"After 2010","pos":32.8091,"pi":0.000185},{"period":"After 2010","pos":32.8112,"pi":0.000185},{"period":"After 2010","pos":32.8134,"pi":0.00004},{"period":"After 2010","pos":32.8166,"pi":0.000024},{"period":"After 2010","pos":32.8187,"pi":0.000024},{"period":"After 2010","pos":32.8208,"pi":0.000137},{"period":"After 2010","pos":32.823,"pi":0.000137},{"period":"After 2010","pos":32.8251,"pi":0.000153},{"period":"After 2010","pos":32.8273,"pi":0.000217},{"period":"After 2010","pos":32.8294,"pi":0.000185},{"period":"After 2010","pos":32.8315,"pi":0.000185},{"period":"After 2010","pos":32.8337,"pi":0.000185},{"period":"After 2010","pos":32.8358,"pi":0.00004},{"period":"After 2010","pos":32.838,"pi":0.000024},{"period":"After 2010","pos":32.8401,"pi":0.000056},{"period":"After 2010","pos":32.8422,"pi":0.00004},{"period":"After 2010","pos":32.8444,"pi":0.000056},{"period":"After 2010","pos":32.8465,"pi":0.000072},{"period":"After 2010","pos":32.8487,"pi":0.000088},{"period":"After 2010","pos":32.8508,"pi":0.000056},{"period":"After 2010","pos":32.8529,"pi":0.000072},{"period":"After 2010","pos":32.8551,"pi":0.000137},{"period":"After 2010","pos":32.8572,"pi":0.000233},{"period":"After 2010","pos":32.8594,"pi":0.000322},{"period":"After 2010","pos":32.8615,"pi":0.000265},{"period":"After 2010","pos":32.8636,"pi":0.000137},{"period":"After 2010","pos":32.8658,"pi":0.000121},{"period":"After 2010","pos":32.8679,"pi":0.000121},{"period":"After 2010","pos":32.8701,"pi":0.000105},{"period":"After 2010","pos":32.8722,"pi":0.000048},{"period":"After 2010","pos":32.8743,"pi":0},{"period":"After 2010","pos":32.8765,"pi":0.00004},{"period":"After 2010","pos":32.8786,"pi":0.000088},{"period":"After 2010","pos":32.8808,"pi":0.000056},{"period":"After 2010","pos":32.8829,"pi":0.000024},{"period":"After 2010","pos":32.885,"pi":0.00004},{"period":"After 2010","pos":32.8872,"pi":0.000056},{"period":"After 2010","pos":32.8893,"pi":0.000024},{"period":"After 2010","pos":32.8915,"pi":0.000024},{"period":"After 2010","pos":32.8936,"pi":0.00004},{"period":"After 2010","pos":32.8957,"pi":0.000024},{"period":"After 2010","pos":32.8979,"pi":0.00004},{"period":"After 2010","pos":32.9,"pi":0.000024},{"period":"After 2010","pos":32.9022,"pi":0},{"period":"After 2010","pos":32.9107,"pi":0}
    ]
  },
  "resolve": {"scale": {"color": "independent"}},
  "spacing": 106,
  "vconcat": [
    {
      "width": 548, "height": 271,
      "title": {"text": "NOG1", "offset": 22},
      "layer": [
        {"data": {"name": "bands"}, "transform": [{"filter": "datum.gene == 'NOG1'"}],
         "mark": {"type": "rect", "color": "#BEBEBE"},
         "encoding": {"x": {"field": "start", "type": "quantitative", "scale": {"domain": [31.3849, 31.7232], "nice": false, "zero": false}}, "x2": {"field": "end"}, "y": {"field": "lo", "type": "quantitative", "scale": {"domain": [-0.000055, 0.001265], "nice": false, "zero": false}}, "y2": {"field": "hi"}}},
        {"data": {"name": "nog1"}, "transform": [{"filter": "datum.period == 'Before 2010'"}],
         "mark": {"type": "line", "strokeWidth": 3.5, "strokeJoin": "round"},
         "encoding": {
           "x": {"field": "pos", "type": "quantitative", "scale": {"domain": [31.3849, 31.7232], "nice": false, "zero": false}, "axis": {"title": "Chr1", "values": [31.4, 31.5, 31.6, 31.7], "labelExpr": "format(datum.value, '.1f') + 'M'"}},
           "y": {"field": "pi", "type": "quantitative", "scale": {"domain": [-0.000055, 0.001265], "nice": false, "zero": false}, "axis": {"title": "pi", "values": [0, 0.00025, 0.0005, 0.00075, 0.001, 0.00125], "format": ".5f"}},
           "color": {"field": "period", "type": "nominal", "scale": {"domain": ["Before 2010", "After 2010"], "range": ["#87CEEB", "#000080"]},
             "legend": {"orient": "none", "legendX": -122, "legendY": -96, "direction": "horizontal", "title": null, "symbolType": "stroke", "symbolSize": 3600, "symbolStrokeWidth": 4, "labelFontSize": 47, "labelFont": "Liberation Sans", "labelLimit": 0, "labelOffset": 15, "columnPadding": 7,
               "encode": {"labels": {"update": {"fill": {"signal": "datum.value == 'After 2010' ? '#0B2462' : '#9DC3E6'"}}}, "symbols": {"update": {"stroke": {"signal": "datum.value == 'After 2010' ? '#0B2462' : '#9DC3E6'"}}}}}}
         }},
        {"data": {"name": "nog1"}, "transform": [{"filter": "datum.period == 'After 2010'"}],
         "mark": {"type": "line", "strokeWidth": 3.5, "strokeJoin": "round"},
         "encoding": {
           "x": {"field": "pos", "type": "quantitative", "scale": {"domain": [31.3849, 31.7232], "nice": false, "zero": false}},
           "y": {"field": "pi", "type": "quantitative", "scale": {"domain": [-0.000055, 0.001265], "nice": false, "zero": false}},
           "color": {"field": "period", "type": "nominal"}
         }}
      ]
    },
    {
      "width": 548, "height": 270,
      "title": {"text": "OsSPX1", "offset": 54},
      "layer": [
        {"data": {"name": "bands"}, "transform": [{"filter": "datum.gene == 'OsSPX1'"}],
         "mark": {"type": "rect", "color": "#BEBEBE"},
         "encoding": {"x": {"field": "start", "type": "quantitative", "scale": {"domain": [23.748, 24.012], "nice": false, "zero": false}}, "x2": {"field": "end"}, "y": {"field": "lo", "type": "quantitative", "scale": {"domain": [-0.000133, 0.003128], "nice": false, "zero": false}}, "y2": {"field": "hi"}}},
        {"data": {"name": "spx1"}, "transform": [{"filter": "datum.period == 'Before 2010'"}],
         "mark": {"type": "line", "strokeWidth": 3.5, "strokeJoin": "round"},
         "encoding": {
           "x": {"field": "pos", "type": "quantitative", "scale": {"domain": [23.748, 24.012], "nice": false, "zero": false}, "axis": {"title": "Chr6", "values": [23.8, 23.9, 24.0], "labelExpr": "format(datum.value, '.1f') + 'M'"}},
           "y": {"field": "pi", "type": "quantitative", "scale": {"domain": [-0.000133, 0.003128], "nice": false, "zero": false}, "axis": {"title": "pi", "values": [0, 0.001, 0.002, 0.003], "format": ".3f"}},
           "color": {"field": "period", "type": "nominal", "scale": {"domain": ["Before 2010", "After 2010"], "range": ["#87CEEB", "#24246E"]}, "legend": null}
         }},
        {"data": {"name": "spx1"}, "transform": [{"filter": "datum.period == 'After 2010'"}],
         "mark": {"type": "line", "strokeWidth": 3.5, "strokeJoin": "round"},
         "encoding": {
           "x": {"field": "pos", "type": "quantitative", "scale": {"domain": [23.748, 24.012], "nice": false, "zero": false}},
           "y": {"field": "pi", "type": "quantitative", "scale": {"domain": [-0.000133, 0.003128], "nice": false, "zero": false}},
           "color": {"field": "period", "type": "nominal", "legend": null}
         }}
      ]
    },
    {
      "width": 548, "height": 272,
      "title": {"text": "OsPL3", "offset": 22},
      "layer": [
        {"data": {"name": "bands"}, "transform": [{"filter": "datum.gene == 'OsPL3'"}],
         "mark": {"type": "rect", "color": "#BEBEBE"},
         "encoding": {"x": {"field": "start", "type": "quantitative", "scale": {"domain": [32.596, 32.924], "nice": false, "zero": false}}, "x2": {"field": "end"}, "y": {"field": "lo", "type": "quantitative", "scale": {"domain": [-0.000055, 0.001265], "nice": false, "zero": false}}, "y2": {"field": "hi"}}},
        {"data": {"name": "pl3"}, "transform": [{"filter": "datum.period == 'Before 2010'"}],
         "mark": {"type": "line", "strokeWidth": 3.5, "strokeJoin": "round"},
         "encoding": {
           "x": {"field": "pos", "type": "quantitative", "scale": {"domain": [32.596, 32.924], "nice": false, "zero": false}, "axis": {"title": "Chr1", "values": [32.6, 32.7, 32.8, 32.9], "labelExpr": "format(datum.value, '.1f') + 'M'"}},
           "y": {"field": "pi", "type": "quantitative", "scale": {"domain": [-0.000055, 0.001265], "nice": false, "zero": false}, "axis": {"title": "pi", "values": [0, 0.00025, 0.0005, 0.00075, 0.001, 0.00125], "format": ".5f"}},
           "color": {"field": "period", "type": "nominal", "scale": {"domain": ["Before 2010", "After 2010"], "range": ["#87CEEB", "#000080"]}, "legend": null}
         }},
        {"data": {"name": "pl3"}, "transform": [{"filter": "datum.period == 'After 2010'"}],
         "mark": {"type": "line", "strokeWidth": 3.5, "strokeJoin": "round"},
         "encoding": {
           "x": {"field": "pos", "type": "quantitative", "scale": {"domain": [32.596, 32.924], "nice": false, "zero": false}},
           "y": {"field": "pi", "type": "quantitative", "scale": {"domain": [-0.000055, 0.001265], "nice": false, "zero": false}},
           "color": {"field": "period", "type": "nominal", "legend": null}
         }}
      ]
    }
  ]
}
